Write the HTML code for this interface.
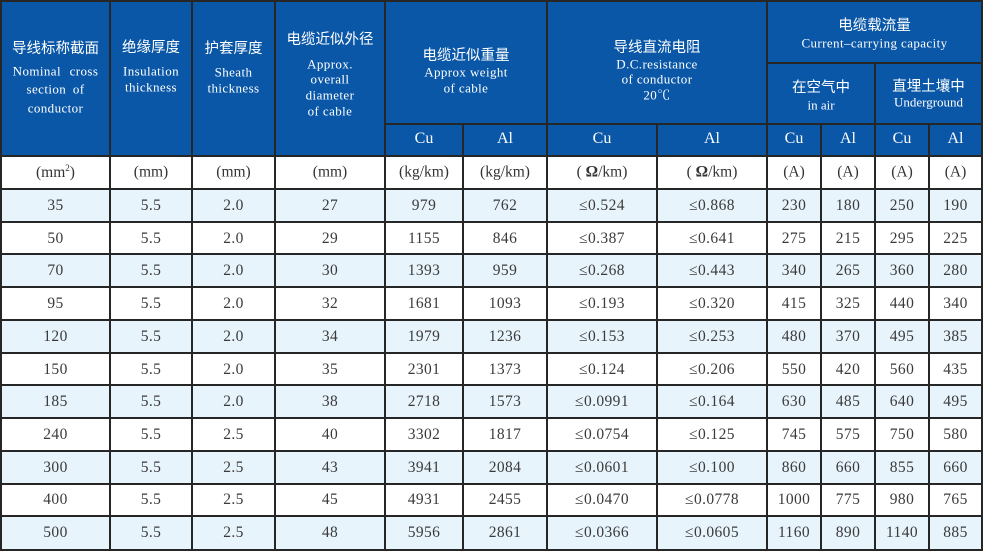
<!DOCTYPE html>
<html><head><meta charset="utf-8">
<style>
*{margin:0;padding:0;box-sizing:border-box}
html,body{width:983px;height:551px;background:#fff;overflow:hidden}
#w{position:relative;width:983px;height:551px;font-family:"Liberation Serif","Noto Serif CJK SC",serif}
.hd{position:absolute;left:1px;top:1px;width:981px;height:155px;background:#0a57a8}
.t{position:absolute;text-align:center;white-space:nowrap;line-height:1;transform:translateY(-50%);color:#fff}
.zh{font-family:"Noto Sans CJK SC","WenQuanYi Zen Hei",sans-serif;font-size:14.5px}
.en{font-size:13px;letter-spacing:0.4px}
.cu{font-size:16px}
.u{color:#333;font-size:15.5px}
.row{position:absolute;left:1px;width:981px;height:32.73px;display:grid;grid-template-columns:109px 82px 83px 110px 78px 84px 110px 110px 54px 54px 54px 53px;color:#3a3a3a;font-size:15.5px;letter-spacing:0.4px}
.row div{display:flex;align-items:center;justify-content:center;padding-top:1px}
.b{background:#e8f4fc}
.v{position:absolute;width:2px;background:#262626}
.h{position:absolute;height:2px;background:#262626}
</style></head><body><div id="w">
<div class="hd"></div>

<div class="t zh" style="left:1px;width:109px;top:48px">导线标称截面</div>
<div class="t en" style="left:1px;width:109px;top:71px;word-spacing:5px">Nominal cross</div>
<div class="t en" style="left:1px;width:109px;top:89px;word-spacing:3px">section of</div>
<div class="t en" style="left:1px;width:109px;top:108px">conductor</div>

<div class="t zh" style="left:110px;width:82px;top:47px">绝缘厚度</div>
<div class="t en" style="left:110px;width:82px;top:70.5px">Insulation</div>
<div class="t en" style="left:110px;width:82px;top:87px">thickness</div>

<div class="t zh" style="left:192px;width:83px;top:47.5px">护套厚度</div>
<div class="t en" style="left:192px;width:83px;top:71.5px">Sheath</div>
<div class="t en" style="left:192px;width:83px;top:88px">thickness</div>

<div class="t zh" style="left:275px;width:110px;top:39px">电缆近似外径</div>
<div class="t en" style="left:275px;width:110px;top:64px">Approx.</div>
<div class="t en" style="left:275px;width:110px;top:79px">overall</div>
<div class="t en" style="left:275px;width:110px;top:95px">diameter</div>
<div class="t en" style="left:275px;width:110px;top:111px">of cable</div>

<div class="t zh" style="left:385px;width:162px;top:55px">电缆近似重量</div>
<div class="t en" style="left:385px;width:162px;top:72px">Approx weight</div>
<div class="t en" style="left:385px;width:162px;top:88px">of cable</div>

<div class="t zh" style="left:547px;width:220px;top:47px">导线直流电阻</div>
<div class="t en" style="left:547px;width:220px;top:64px">D.C.resistance</div>
<div class="t en" style="left:547px;width:220px;top:79px">of conductor</div>
<div class="t en" style="left:547px;width:220px;top:95px">20℃</div>

<div class="t zh" style="left:767px;width:215px;top:25px">电缆载流量</div>
<div class="t en" style="left:767px;width:215px;top:43px">Current–carrying capacity</div>

<div class="t zh" style="left:767px;width:108px;top:87px">在空气中</div>
<div class="t en" style="left:767px;width:108px;top:105px;letter-spacing:0">in air</div>
<div class="t zh" style="left:875px;width:107px;top:86px">直埋土壤中</div>
<div class="t en" style="left:875px;width:107px;top:102px;letter-spacing:0">Underground</div>

<div class="t cu" style="left:385px;width:78px;top:139px">Cu</div>
<div class="t cu" style="left:463px;width:84px;top:139px">Al</div>
<div class="t cu" style="left:547px;width:110px;top:139px">Cu</div>
<div class="t cu" style="left:657px;width:110px;top:139px">Al</div>
<div class="t cu" style="left:767px;width:54px;top:139px">Cu</div>
<div class="t cu" style="left:821px;width:54px;top:139px">Al</div>
<div class="t cu" style="left:875px;width:54px;top:139px">Cu</div>
<div class="t cu" style="left:929px;width:53px;top:139px">Al</div>

<div class="t u" style="left:1px;width:109px;top:172px">(mm<sup style="font-size:9px;vertical-align:6px">2</sup>)</div>
<div class="t u" style="left:110px;width:82px;top:172px">(mm)</div>
<div class="t u" style="left:192px;width:83px;top:172px">(mm)</div>
<div class="t u" style="left:275px;width:110px;top:172px">(mm)</div>
<div class="t u" style="left:385px;width:78px;top:172px">(kg/km)</div>
<div class="t u" style="left:463px;width:84px;top:172px">(kg/km)</div>
<div class="t u" style="left:547px;width:110px;top:172px">( <b>Ω</b>/km)</div>
<div class="t u" style="left:657px;width:110px;top:172px">( <b>Ω</b>/km)</div>
<div class="t u" style="left:767px;width:54px;top:172px">(A)</div>
<div class="t u" style="left:821px;width:54px;top:172px">(A)</div>
<div class="t u" style="left:875px;width:54px;top:172px">(A)</div>
<div class="t u" style="left:929px;width:53px;top:172px">(A)</div>

<div class="row b" style="top:189px"><div>35</div><div>5.5</div><div>2.0</div><div>27</div><div>979</div><div>762</div><div>≤0.524</div><div>≤0.868</div><div>230</div><div>180</div><div>250</div><div>190</div></div>
<div class="row" style="top:221.73px"><div>50</div><div>5.5</div><div>2.0</div><div>29</div><div>1155</div><div>846</div><div>≤0.387</div><div>≤0.641</div><div>275</div><div>215</div><div>295</div><div>225</div></div>
<div class="row b" style="top:254.46px"><div>70</div><div>5.5</div><div>2.0</div><div>30</div><div>1393</div><div>959</div><div>≤0.268</div><div>≤0.443</div><div>340</div><div>265</div><div>360</div><div>280</div></div>
<div class="row" style="top:287.19px"><div>95</div><div>5.5</div><div>2.0</div><div>32</div><div>1681</div><div>1093</div><div>≤0.193</div><div>≤0.320</div><div>415</div><div>325</div><div>440</div><div>340</div></div>
<div class="row b" style="top:319.92px"><div>120</div><div>5.5</div><div>2.0</div><div>34</div><div>1979</div><div>1236</div><div>≤0.153</div><div>≤0.253</div><div>480</div><div>370</div><div>495</div><div>385</div></div>
<div class="row" style="top:352.65px"><div>150</div><div>5.5</div><div>2.0</div><div>35</div><div>2301</div><div>1373</div><div>≤0.124</div><div>≤0.206</div><div>550</div><div>420</div><div>560</div><div>435</div></div>
<div class="row b" style="top:385.38px"><div>185</div><div>5.5</div><div>2.0</div><div>38</div><div>2718</div><div>1573</div><div>≤0.0991</div><div>≤0.164</div><div>630</div><div>485</div><div>640</div><div>495</div></div>
<div class="row" style="top:418.11px"><div>240</div><div>5.5</div><div>2.5</div><div>40</div><div>3302</div><div>1817</div><div>≤0.0754</div><div>≤0.125</div><div>745</div><div>575</div><div>750</div><div>580</div></div>
<div class="row b" style="top:450.84px"><div>300</div><div>5.5</div><div>2.5</div><div>43</div><div>3941</div><div>2084</div><div>≤0.0601</div><div>≤0.100</div><div>860</div><div>660</div><div>855</div><div>660</div></div>
<div class="row" style="top:483.57px"><div>400</div><div>5.5</div><div>2.5</div><div>45</div><div>4931</div><div>2455</div><div>≤0.0470</div><div>≤0.0778</div><div>1000</div><div>775</div><div>980</div><div>765</div></div>
<div class="row b" style="top:516.3px"><div>500</div><div>5.5</div><div>2.5</div><div>48</div><div>5956</div><div>2861</div><div>≤0.0366</div><div>≤0.0605</div><div>1160</div><div>890</div><div>1140</div><div>885</div></div>

<div class="v" style="left:0;top:0;height:551px"></div>
<div class="v" style="left:109px;top:0;height:550px"></div>
<div class="v" style="left:191px;top:0;height:550px"></div>
<div class="v" style="left:274px;top:0;height:550px"></div>
<div class="v" style="left:384px;top:0;height:550px"></div>
<div class="v" style="left:546px;top:0;height:550px"></div>
<div class="v" style="left:766px;top:0;height:550px"></div>
<div class="v" style="left:981px;top:0;height:551px"></div>
<div class="v" style="left:462px;top:123px;height:427px"></div>
<div class="v" style="left:656px;top:123px;height:427px"></div>
<div class="v" style="left:820px;top:123px;height:427px"></div>
<div class="v" style="left:874px;top:62px;height:488px"></div>
<div class="v" style="left:928px;top:123px;height:427px"></div>

<div class="h" style="left:0;top:0;width:983px"></div>
<div class="h" style="left:766px;top:62px;width:217px"></div>
<div class="h" style="left:384px;top:123px;width:599px"></div>
<div class="h" style="left:0;top:155px;width:983px"></div>
<div class="h" style="left:0;top:188px;width:983px"></div>
<div class="h" style="left:0;top:220.73px;width:983px"></div>
<div class="h" style="left:0;top:253.46px;width:983px"></div>
<div class="h" style="left:0;top:286.19px;width:983px"></div>
<div class="h" style="left:0;top:318.92px;width:983px"></div>
<div class="h" style="left:0;top:351.65px;width:983px"></div>
<div class="h" style="left:0;top:384.38px;width:983px"></div>
<div class="h" style="left:0;top:417.11px;width:983px"></div>
<div class="h" style="left:0;top:449.84px;width:983px"></div>
<div class="h" style="left:0;top:482.57px;width:983px"></div>
<div class="h" style="left:0;top:515.3px;width:983px"></div>
<div class="h" style="left:0;top:548.5px;width:983px"></div>
</div></body></html>
